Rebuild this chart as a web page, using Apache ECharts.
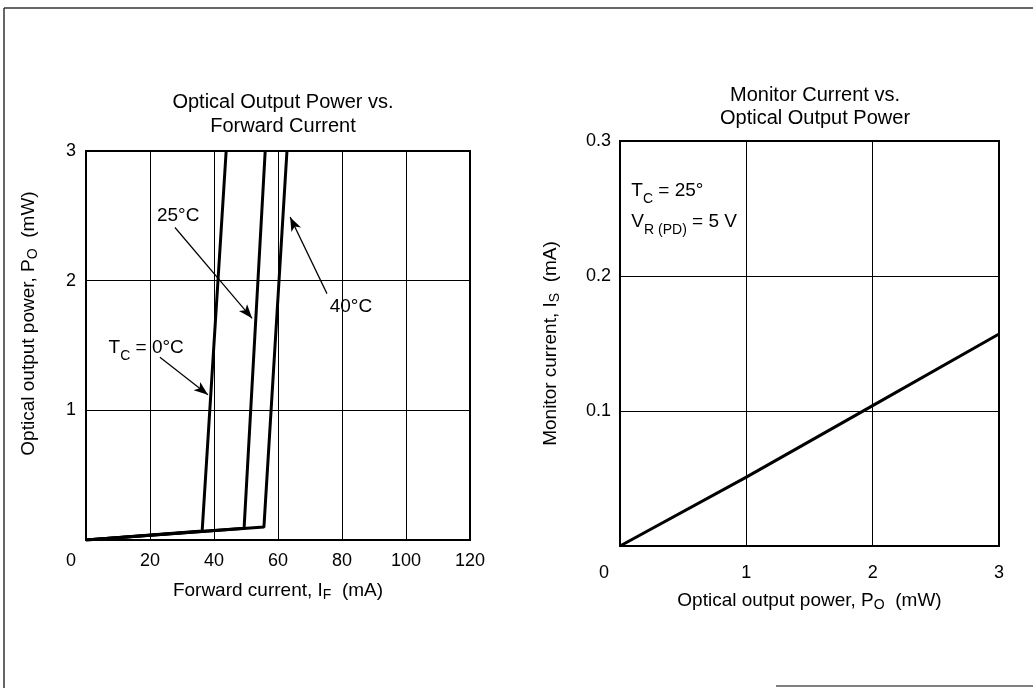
<!DOCTYPE html>
<html>
<head>
<meta charset="utf-8">
<script src="https://cdn.jsdelivr.net/npm/echarts@6/dist/echarts.min.js"></script>
<style>
html,body{margin:0;padding:0;background:#fff;}
#c{width:1033px;height:688px;}
</style>
</head>
<body>
<div id="c"></div>
<script>
// ---- Data: left chart (Optical output power vs forward current) ----
const leftXTicks = [0, 20, 40, 60, 80, 100, 120];
const leftYTicks = [0, 1, 2, 3];
const curve0C  = [[0, 0], [36.3, 0.07], [43.8, 3]];
const curve25C = [[0, 0], [49.4, 0.09], [56.0, 3]];
const curve40C = [[0, 0], [55.6, 0.10], [62.8, 3]];
// annotation arrows: [from, to] in data units
const arrow0C  = [[23.1, 1.41], [38.1, 1.12]];
const arrow25C = [[27.8, 2.41], [51.9, 1.71]];
const arrow40C = [[75.3, 1.90], [63.8, 2.49]];
// annotation label anchors
const label0C  = [18.8, 1.48];
const label25C = [28.8, 2.50];
const label40C = [82.8, 1.80];

// ---- Data: right chart (Monitor current vs optical output power) ----
const rightXTicks = [0, 1, 2, 3];
const rightYTicks = [0, 0.1, 0.2, 0.3];
const monitorCurve = [[0, 0], [1, 0.051], [2, 0.104], [3, 0.157]];
const rightNoteAnchor = [0.09, 0.252];

const FONT = 'Liberation Sans';
const chart = echarts.init(document.getElementById('c'));

const tickStyle = {color: '#000', fontSize: 18, fontFamily: FONT};
const nameStyleBase = {color: '#000', fontSize: 19, fontFamily: FONT,
  rich: {sub: {fontSize: 14, fontFamily: FONT, color: '#000', verticalAlign: 'bottom', padding: [8, 0, 0, 0]}}};

function lineSeries(data, xi) {
  return {type: 'line', xAxisIndex: xi, yAxisIndex: xi, data: data, symbol: 'none',
    lineStyle: {color: '#000', width: 3}, silent: true, z: 5};
}
function arrowSeries(arr, xi) {
  return {type: 'line', xAxisIndex: xi, yAxisIndex: xi, data: [], silent: true,
    markLine: {silent: true, symbol: ['none', 'arrow'], symbolSize: [8, 14],
      lineStyle: {color: '#000', width: 1.2, type: 'solid', opacity: 1}, label: {show: false},
      data: [[{coord: arr[0]}, {coord: arr[1]}]]}};
}
function textSeries(pos, text, xi, align) {
  return {type: 'scatter', xAxisIndex: xi, yAxisIndex: xi, data: [pos], symbolSize: 0, silent: true,
    itemStyle: {opacity: 1, color: '#000'},
    label: {show: true, position: 'inside', formatter: text, align: align || 'center', opacity: 1,
      color: '#000', fontSize: 19, fontFamily: FONT, lineHeight: 31,
      rich: {sub: {fontSize: 14, fontFamily: FONT, color: '#000', verticalAlign: 'bottom', padding: [9, 0, 0, 0], lineHeight: 31},
             n: {fontSize: 19, fontFamily: FONT, color: '#000', lineHeight: 31}}}};
}

const option = {
  backgroundColor: '#fff',
  animation: false,
  title: [
    {text: 'Optical Output Power vs.\nForward Current', left: 278, top: 85, textAlign: 'center',
      textStyle: {fontSize: 20, fontWeight: 'normal', color: '#000', fontFamily: FONT, lineHeight: 24}},
    {text: 'Monitor Current vs.\nOptical Output Power', left: 810, top: 79, textAlign: 'center',
      textStyle: {fontSize: 20, fontWeight: 'normal', color: '#000', fontFamily: FONT, lineHeight: 23}}
  ],
  grid: [
    {left: 86, top: 151, width: 384, height: 389, show: true, borderColor: '#000', borderWidth: 2, backgroundColor: 'transparent'},
    {left: 620, top: 141, width: 379, height: 405, show: true, borderColor: '#000', borderWidth: 2, backgroundColor: 'transparent'}
  ],
  xAxis: [
    {type: 'value', gridIndex: 0, min: leftXTicks[0], max: leftXTicks[leftXTicks.length - 1], interval: 20,
      axisLine: {show: true, lineStyle: {color: '#000', width: 2}}, axisTick: {show: false},
      splitLine: {show: true, lineStyle: {color: '#000', width: 1}},
      axisLabel: Object.assign({margin: 12, formatter: v => v === 0 ? '{z|0}' : String(v),
        rich: {z: {fontSize: 18, fontFamily: FONT, color: '#000', padding: [0, 30, 0, 0]}}}, tickStyle),
      name: 'Forward current, I{sub|F}  (mA)', nameLocation: 'middle', nameGap: 40,
      nameTextStyle: nameStyleBase},
    {type: 'value', gridIndex: 1, min: rightXTicks[0], max: rightXTicks[rightXTicks.length - 1], interval: 1,
      axisLine: {show: true, lineStyle: {color: '#000', width: 2}}, axisTick: {show: false},
      splitLine: {show: true, lineStyle: {color: '#000', width: 1}},
      axisLabel: Object.assign({margin: 18, formatter: v => v === 0 ? '{z|0}' : String(v),
        rich: {z: {fontSize: 18, fontFamily: FONT, color: '#000', padding: [0, 32, 0, 0]}}}, tickStyle),
      name: 'Optical output power, P{sub|O}  (mW)', nameLocation: 'middle', nameGap: 44,
      nameTextStyle: nameStyleBase}
  ],
  yAxis: [
    {type: 'value', gridIndex: 0, min: leftYTicks[0], max: leftYTicks[leftYTicks.length - 1], interval: 1,
      axisLine: {show: true, lineStyle: {color: '#000', width: 2}}, axisTick: {show: false},
      splitLine: {show: true, lineStyle: {color: '#000', width: 1}},
      axisLabel: Object.assign({margin: 10, formatter: v => v === 0 ? '' : String(v)}, tickStyle),
      name: 'Optical output power, P{sub|O}  (mW)', nameLocation: 'middle', nameGap: 46,
      nameTextStyle: Object.assign({}, nameStyleBase, {padding: [0, 0, 0, 44]})},
    {type: 'value', gridIndex: 1, min: rightYTicks[0], max: rightYTicks[rightYTicks.length - 1], interval: 0.1,
      axisLine: {show: true, lineStyle: {color: '#000', width: 2}}, axisTick: {show: false},
      splitLine: {show: true, lineStyle: {color: '#000', width: 1}},
      axisLabel: Object.assign({margin: 9, formatter: v => v === 0 ? '' : v.toFixed(1)}, tickStyle),
      name: 'Monitor current, I{sub|S}  (mA)', nameLocation: 'middle', nameGap: 58,
      nameTextStyle: nameStyleBase}
  ],
  series: [
    lineSeries(curve0C, 0),
    lineSeries(curve25C, 0),
    lineSeries(curve40C, 0),
    arrowSeries(arrow0C, 0),
    arrowSeries(arrow25C, 0),
    arrowSeries(arrow40C, 0),
    textSeries(label0C, '{n|T}{sub|C}{n| = 0°C}', 0),
    textSeries(label25C, '{n|25°C}', 0),
    textSeries(label40C, '{n|40°C}', 0),
    lineSeries(monitorCurve, 1),
    textSeries(rightNoteAnchor, '{n|T}{sub|C}{n| = 25°}\n{n|V}{sub|R (PD)}{n| = 5 V}', 1, 'left')
  ],
  graphic: [
    {type: 'line', shape: {x1: 4, y1: 8, x2: 1033, y2: 8}, style: {stroke: '#333', lineWidth: 1.5}, silent: true},
    {type: 'line', shape: {x1: 4, y1: 8, x2: 4, y2: 688}, style: {stroke: '#333', lineWidth: 1.5}, silent: true},
    {type: 'line', shape: {x1: 776, y1: 686, x2: 1033, y2: 686}, style: {stroke: '#555', lineWidth: 1.5}, silent: true}
  ]
};
chart.setOption(option);
</script>
</body>
</html>
